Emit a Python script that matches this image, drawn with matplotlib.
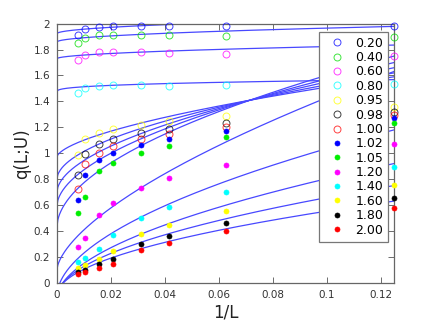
import numpy as np
import matplotlib
matplotlib.use("Agg")
import matplotlib.pyplot as plt

# system sizes
L_values = [128, 96, 64, 48, 32, 24, 16, 8]

U_labels = ["0.20", "0.40", "0.60", "0.80", "0.95", "0.98", "1.00",
            "1.02", "1.05", "1.20", "1.40", "1.60", "1.80", "2.00"]
colors = ["#0000ff", "#00dd00", "#ff00ff", "#00ffff", "#ffff00", "#000000", "#ff0000",
          "#0000ff", "#00ee00", "#ff00ff", "#00ffff", "#ffff00", "#000000", "#ff0000"]
filled = [False] * 7 + [True] * 7

# q(L;U) values, ordered as L_values
q_020 = [1.915, 1.957, 1.977, 1.982, 1.982, 1.982, 1.982, 1.980]
q_040 = [1.853, 1.892, 1.910, 1.915, 1.913, 1.910, 1.907, 1.897]
q_060 = [1.722, 1.758, 1.779, 1.781, 1.779, 1.774, 1.766, 1.751]
q_080 = [1.467, 1.501, 1.521, 1.524, 1.524, 1.521, 1.524, 1.537]
q_095 = [0.988, 1.110, 1.156, 1.187, 1.220, 1.249, 1.285, 1.354]
q_098 = [0.832, 0.996, 1.069, 1.107, 1.156, 1.189, 1.236, 1.318]
q_100 = [0.726, 0.919, 1.004, 1.053, 1.112, 1.148, 1.205, 1.295]
q_102 = [0.641, 0.834, 0.947, 0.999, 1.066, 1.112, 1.171, 1.269]
q_105 = [0.541, 0.659, 0.860, 0.922, 0.999, 1.056, 1.125, 1.233]
q_120 = [0.278, 0.343, 0.523, 0.618, 0.729, 0.806, 0.909, 1.071]
q_140 = [0.162, 0.193, 0.263, 0.366, 0.502, 0.582, 0.698, 0.893]
q_160 = [0.111, 0.137, 0.185, 0.245, 0.378, 0.448, 0.556, 0.757]
q_180 = [0.085, 0.101, 0.142, 0.183, 0.301, 0.363, 0.463, 0.654]
q_200 = [0.065, 0.080, 0.116, 0.147, 0.252, 0.307, 0.397, 0.574]
q_all = [q_020, q_040, q_060, q_080, q_095, q_098, q_100,
         q_102, q_105, q_120, q_140, q_160, q_180, q_200]

# fitted curves q = a + b*x^c, read as value at 1/L = 0, 1/16, 1/8
fit_at_0 = [1.923, 1.859, 1.730, 1.473, 0.972, 0.800, 0.700,
            0.594, 0.432, 0.103, -0.100, -0.120, -0.110, -0.100]
fit_at_16 = [2.010, 1.943, 1.803, 1.548, 1.374, 1.367, 1.359,
             1.351, 1.341, 1.085, 0.782, 0.598, 0.493, 0.415]
fit_at_8 = [2.046, 1.979, 1.835, 1.568, 1.590, 1.620, 1.660,
            1.700, 1.750, 1.631, 1.180, 0.920, 0.750, 0.630]

xticks = [0, 0.02, 0.04, 0.06, 0.08, 0.1, 0.12]
xtick_labels = ["0", "0.02", "0.04", "0.06", "0.08", "0.1", "0.12"]
yticks = [0, 0.2, 0.4, 0.6, 0.8, 1.0, 1.2, 1.4, 1.6, 1.8, 2.0]
ytick_labels = ["0", "0.2", "0.4", "0.6", "0.8", "1", "1.2", "1.4", "1.6", "1.8", "2"]

fig = plt.figure(figsize=(4.36, 3.21), dpi=100)
ax = fig.add_axes([57 / 436, 1 - 282.7 / 321, 337 / 436, 259 / 321])

xinv = 1.0 / np.array(L_values, dtype=float)
xs = np.linspace(0, 0.125, 400)
for y0, y1, y2 in zip(fit_at_0, fit_at_16, fit_at_8):
    c = np.log2((y2 - y0) / (y1 - y0))
    b = (y1 - y0) / (0.0625 ** c)
    ax.plot(xs, y0 + b * xs ** c, color="#4848ff", lw=0.9, zorder=2)

handles = []
for lab, col, fl, q in zip(U_labels, colors, filled, q_all):
    if fl:
        h, = ax.plot(xinv, q, linestyle="none", marker="o", ms=3.6,
                     mfc=col, mec=col, mew=0.5, label=lab, clip_on=False, zorder=3)
    else:
        h, = ax.plot(xinv, q, linestyle="none", marker="o", ms=5.0,
                     mfc="none", mec=col, mew=0.7, alpha=0.75, label=lab,
                     clip_on=False, zorder=3)
    handles.append(h)

ax.set_xlim(0, 0.125)
ax.set_ylim(0, 2)
ax.set_xticks(xticks)
ax.set_xticklabels(xtick_labels)
ax.set_yticks(yticks)
ax.set_yticklabels(ytick_labels)
ax.tick_params(direction="in", top=True, right=True, labelsize=7.5, length=4,
               width=0.6, colors="#555555", labelcolor="#333333", pad=5)
for s in ax.spines.values():
    s.set_color("#666666")
    s.set_linewidth(0.9)

ax.set_xlabel("1/L", fontsize=12, color="#222222", labelpad=3)
ax.set_ylabel("q(L;U)", fontsize=12, color="#222222", labelpad=2)

leg = ax.legend(handles=handles, loc="upper left", bbox_to_anchor=(0.778, 0.969),
                borderaxespad=0, fontsize=9, frameon=True, fancybox=False,
                framealpha=1, edgecolor="#777777", labelspacing=0.11,
                handlelength=2.1, handletextpad=0.4, borderpad=0.4,
                markerfirst=True)
leg.get_frame().set_linewidth(0.9)
leg.set_zorder(5)

fig.savefig("out.png", dpi=100)
